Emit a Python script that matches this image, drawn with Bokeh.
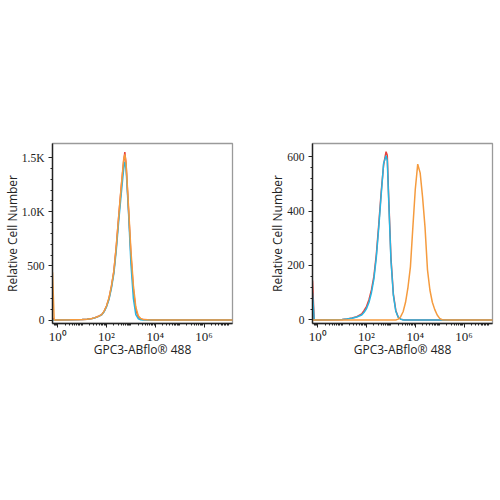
from bokeh.plotting import figure
from bokeh.layouts import row
from bokeh.models import FixedTicker, Range1d
from bokeh.embed import file_html
from bokeh.resources import INLINE

# ---------------- data (log10 of fluorescence bin, counts) ----------------
L_E = [-0.22, -0.15, 0.0, 0.5, 1.0, 1.2, 1.4, 1.5, 1.6, 1.7, 1.8, 1.9, 2.0, 2.1, 2.2, 2.3,
       2.4, 2.5, 2.6, 2.7, 2.75, 2.8, 2.9, 3.0, 3.1, 3.2, 3.3, 3.4, 3.5, 3.7, 4.0, 5.0, 6.0, 7.2]
L_RED = [20, 0, 0, 2, 5, 8, 14, 20, 28, 38, 50, 80, 130, 200, 310, 450,
         680, 960, 1220, 1460, 1550, 1440, 1020, 600, 280, 95, 30, 10, 4, 2, 1, 0, 0, 0]
L_BLUE = [0, 0, 0, 2, 5, 8, 13, 19, 27, 36, 48, 76, 124, 190, 295, 430,
          650, 920, 1160, 1390, 1460, 1400, 1000, 520, 200, 50, 12, 3, 1, 0, 0, 0, 0, 0]
L_ORANGE = [440, 0, 0, 2, 5, 8, 14, 20, 28, 38, 50, 82, 132, 205, 315, 455,
            690, 965, 1230, 1480, 1530, 1450, 1050, 640, 320, 120, 40, 15, 6, 2, 1, 0, 0, 0]

R_E = [-0.22, -0.15, 0.0, 0.5, 1.0, 1.2, 1.4, 1.6, 1.8, 1.9, 2.0, 2.1, 2.2, 2.3, 2.4, 2.5,
       2.6, 2.7, 2.8, 2.85, 2.9, 3.0, 3.1, 3.2, 3.3, 3.4, 3.5, 3.6, 3.7, 3.8, 3.9, 4.0,
       4.1, 4.2, 4.3, 4.4, 4.5, 4.6, 4.7, 4.8, 4.9, 5.0, 5.1, 5.5, 6.0, 7.2]
R_RED = [145, 0, 0, 1, 2, 4, 7, 12, 22, 35, 50, 75, 110, 160, 240, 350,
         470, 570, 618, 605, 470, 230, 95, 35, 10, 3, 1, 0, 0, 0, 0, 0,
         0, 0, 0, 0, 0, 0, 0, 0, 0, 0, 0, 0, 0, 0]
R_BLUE = [100, 0, 0, 1, 2, 4, 6, 11, 18, 28, 42, 65, 100, 150, 230, 340,
          460, 575, 603, 585, 460, 220, 90, 32, 10, 3, 0, 0, 0, 0, 0, 0,
          0, 0, 0, 0, 0, 0, 0, 0, 0, 0, 0, 0, 0, 0]
R_ORANGE = [0, 0, 0, 0, 0, 0, 0, 0, 0, 0, 0, 0, 0, 0, 0, 0,
            0, 0, 0, 0, 0, 0, 0, 0, 3, 12, 30, 65, 120, 195, 340, 480,
            572, 540, 450, 340, 185, 110, 65, 38, 18, 6, 1, 0, 0, 0]

X_TICKS = [1, 100, 10000, 1000000]
X_LABELS = ["10\u2070", "10\u00b2", "10\u2074", "10\u2076"]
L_YTICKS = [0, 500, 1000, 1500]
L_YLABELS = ["0", "500", "1.0K", "1.5K"]
R_YTICKS = [0, 200, 400, 600]
R_YLABELS = ["0", "200", "400", "600"]

RED = "#e8423c"
BLUE = "#27b6e2"
ORANGE = "#f59b3e"

X_MINOR = []
for k in range(-1, 8):
    for m in range(1, 10):
        X_MINOR.append(m * 10.0 ** k)


def panel(E, red, blue, orange, yticks, ylabels, yminor_step, yr, border_left, border_right):
    p = figure(x_axis_type="log", output_backend="svg", toolbar_location=None,
               frame_width=180, frame_height=180,
               min_border_left=border_left, min_border_right=border_right,
               min_border_top=143, min_border_bottom=50,
               x_range=Range1d(10 ** -0.22, 10 ** 7.17), y_range=Range1d(*yr))
    xs = [10 ** e for e in E]
    p.line(xs, red, line_color=RED, line_width=1.5)
    p.line(xs, blue, line_color=BLUE, line_width=1.5)
    p.line(xs, orange, line_color=ORANGE, line_width=1.5)

    p.grid.visible = False
    p.outline_line_color = "#9a9a9a"
    p.outline_line_width = 1.3
    p.background_fill_color = "white"
    p.border_fill_color = "white"

    p.xaxis.ticker = FixedTicker(ticks=X_TICKS, minor_ticks=X_MINOR)
    p.xaxis.major_label_overrides = {t: l for t, l in zip(X_TICKS, X_LABELS)}
    p.xaxis.axis_label = "GPC3-ABflo\u00ae 488"

    ymin = list(range(yticks[0], yticks[-1] + yminor_step, yminor_step))
    p.yaxis.ticker = FixedTicker(ticks=yticks, minor_ticks=ymin)
    p.yaxis.major_label_overrides = {t: l for t, l in zip(yticks, ylabels)}
    p.yaxis.axis_label = "Relative Cell Number"

    for ax in (p.xaxis[0], p.yaxis[0]):
        ax.axis_line_color = "#222222"
        ax.axis_line_width = 1.4
        ax.major_tick_line_color = "#222222"
        ax.minor_tick_line_color = "#222222"
        ax.major_tick_out = 4
        ax.major_tick_in = 0
        ax.minor_tick_out = 2
        ax.minor_tick_in = 0
        ax.major_label_text_font = "Liberation Serif"
        ax.major_label_text_color = "#222222"
        ax.axis_label_text_font = "Open Sans"
        ax.axis_label_text_font_size = "12px"
        ax.axis_label_text_font_style = "normal"
        ax.axis_label_text_color = "#222222"
    xa = p.xaxis[0]
    xa.major_label_text_font_size = "13px"
    xa.major_label_standoff = 1
    xa.axis_label_standoff = -6
    ya = p.yaxis[0]
    ya.major_label_text_font_size = "11.5px"
    ya.major_label_standoff = 4
    ya.axis_label_standoff = -2
    return p


p1 = panel(L_E, L_RED, L_BLUE, L_ORANGE, L_YTICKS, L_YLABELS, 100, (-32, 1630), 52, 18)
p2 = panel(R_E, R_RED, R_BLUE, R_ORANGE, R_YTICKS, R_YLABELS, 40, (-13, 648), 62, 8)

layout = row(p1, p2)
open("out.html", "w").write(file_html(layout, INLINE))
